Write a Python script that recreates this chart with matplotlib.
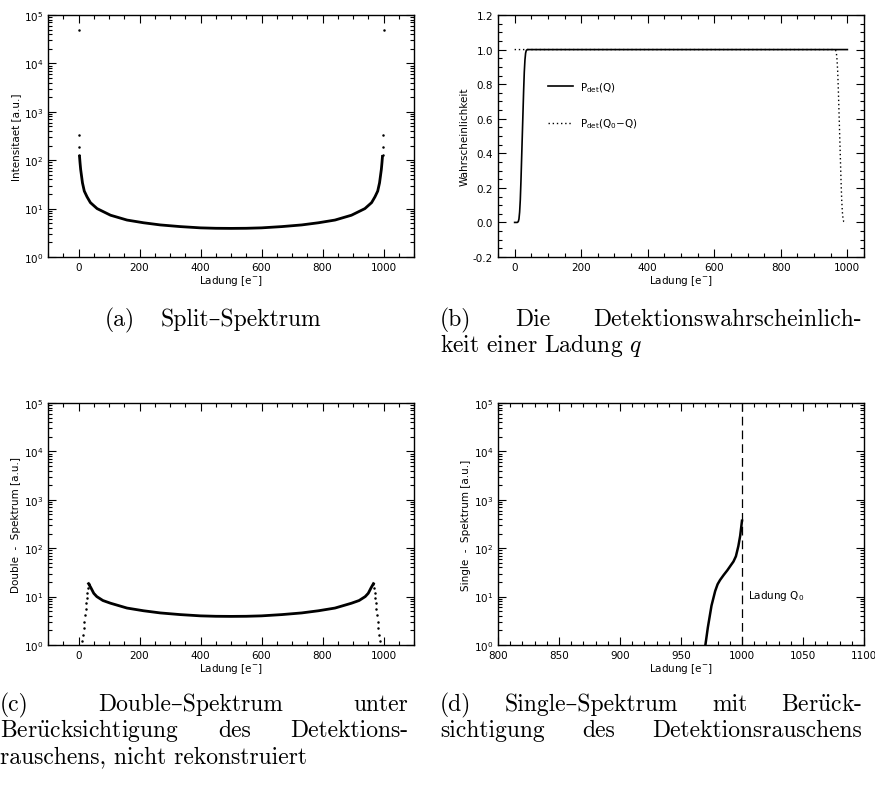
import matplotlib
matplotlib.use("Agg")
import matplotlib.pyplot as plt
from matplotlib.ticker import MultipleLocator, LogLocator, NullFormatter, FormatStrFormatter
import numpy as np

plt.rcParams['font.family'] = 'DejaVu Sans'
plt.rcParams['font.size'] = 7.5
plt.rcParams['axes.linewidth'] = 1.0

W, H = 875, 803

# (a) split spectrum, dots at the very edges, dense curve in between
split_dot_q = [0, 1, 2, 3, 997, 998, 999, 1000]
split_dot_i = [5.0e4, 330, 187, 128, 128, 187, 330, 5.0e4]
split_q = [3, 5, 7, 10, 13, 19, 28, 39, 61, 105, 159, 213, 268, 333, 400, 450, 500,
           550, 600, 667, 732, 787, 841, 895, 939, 961, 972, 981, 987, 990, 993, 995, 997]
split_i = [128, 89, 65, 47, 34, 23, 17.5, 13.3, 10, 7.3, 5.8, 5.1, 4.6, 4.25, 4.0, 3.92, 3.9,
           3.92, 4.0, 4.25, 4.6, 5.1, 5.8, 7.3, 10, 13.3, 17.5, 23, 34, 47, 65, 89, 128]

# (b) detection probability
pdet_q = [0, 3, 8, 11, 13, 15, 17, 19, 21, 23, 25, 27, 29, 31, 33, 35, 38, 42, 1000]
pdet_p = [0, 0, 0, 0.005, 0.02, 0.06, 0.13, 0.24, 0.37, 0.5, 0.63, 0.76, 0.87, 0.94, 0.98,
          0.995, 1.0, 1.0, 1.0]
pdet_rev_q = [0, 958, 962, 965, 967, 969, 971, 973, 975, 977, 979, 981, 983, 985, 987, 989, 992, 997]
pdet_rev_p = [1.0, 1.0, 1.0, 0.995, 0.98, 0.94, 0.87, 0.76, 0.63, 0.5, 0.37, 0.24, 0.13, 0.06,
              0.02, 0.005, 0, 0]

# (c) double spectrum with detection noise
double_edge_l_q = [13, 15, 17, 19, 21, 23, 25, 27, 29, 31, 33]
double_edge_l_i = [1.2, 1.6, 2.2, 3.0, 4.1, 5.5, 7.3, 9.5, 12, 15, 18.5]
double_edge_r_q = [967, 969, 971, 973, 975, 977, 979, 981, 983, 985, 987]
double_edge_r_i = [18.5, 15, 12, 9.5, 7.3, 5.5, 4.1, 3.0, 2.2, 1.6, 1.2]
double_q = [33, 40, 50, 60, 80, 105, 159, 213, 268, 333, 400, 450, 500,
            550, 600, 667, 732, 787, 841, 895, 920, 940, 950, 960, 967]
double_i = [18.5, 15.5, 11.7, 10, 8.3, 7.3, 5.8, 5.1, 4.6, 4.25, 4.0, 3.92, 3.9,
            3.92, 4.0, 4.25, 4.6, 5.1, 5.8, 7.3, 8.3, 10, 11.7, 15.5, 18.5]

# (d) single spectrum near Q0
single_q = [970, 972, 975, 978, 980, 982, 985, 988, 991, 993, 995, 997, 998.5, 1000]
single_i = [1.0, 2.3, 6.5, 13, 18, 22, 28, 35, 45, 53, 68, 110, 180, 370]
q0 = 1000

fig = plt.figure(figsize=(W / 100, H / 100), dpi=100)


def make_axes(left, top, width=366, height=242):
    return fig.add_axes([left / W, 1 - (top + height) / H, width / W, height / H])


def style(ax):
    ax.tick_params(which='both', direction='in', top=True, right=True, width=0.8)
    ax.tick_params(which='major', length=5.5, pad=3.5)
    ax.tick_params(which='minor', length=3)
    ax.set_xlabel('Ladung [e$^{-}$]', labelpad=1)


def log_y(ax):
    ax.set_yscale('log')
    ax.set_ylim(1, 1e5)
    ax.yaxis.set_major_locator(LogLocator(base=10, numticks=10))
    ax.yaxis.set_minor_locator(LogLocator(base=10, subs=np.arange(2, 10), numticks=10))
    ax.yaxis.set_minor_formatter(NullFormatter())


# (a)
ax = make_axes(48, 16)
ax.plot(split_q, split_i, color='black', lw=2.0, solid_capstyle='butt')
ax.plot(split_dot_q, split_dot_i, ls='none', marker='.', ms=1.6, color='black')
log_y(ax)
ax.set_xlim(-100, 1100)
ax.xaxis.set_major_locator(MultipleLocator(200))
ax.xaxis.set_minor_locator(MultipleLocator(50))
ax.set_ylabel('Intensitaet [a.u.]', labelpad=2)
style(ax)

# (b)
ax = make_axes(498, 16)
ax.plot(pdet_rev_q, pdet_rev_p, color='black', lw=1.0, dashes=(1, 2), label='P$_{\\rm det}$(Q$_0$$-$Q)')
ax.plot(pdet_q, pdet_p, color='black', lw=1.2, label='P$_{\\rm det}$(Q)')
ax.set_xlim(-50, 1050)
ax.set_ylim(-0.2, 1.2)
ax.xaxis.set_major_locator(MultipleLocator(200))
ax.xaxis.set_minor_locator(MultipleLocator(50))
ax.yaxis.set_major_locator(MultipleLocator(0.2))
ax.yaxis.set_minor_locator(MultipleLocator(0.05))
ax.yaxis.set_major_formatter(FormatStrFormatter('%.1f'))
ax.set_ylabel('Wahrscheinlichkeit', labelpad=2)
h, l = ax.get_legend_handles_labels()
ax.legend(h[::-1], l[::-1], loc='upper left', bbox_to_anchor=(0.11, 0.77), frameon=False,
          handlelength=2.4, handletextpad=0.7, labelspacing=2.2, fontsize=7.5)
style(ax)

# (c)
ax = make_axes(48, 404)
ax.plot(double_q, double_i, color='black', lw=2.0)
ax.plot(double_edge_l_q, double_edge_l_i, ls='none', marker='.', ms=1.6, color='black')
ax.plot(double_edge_r_q, double_edge_r_i, ls='none', marker='.', ms=1.6, color='black')
log_y(ax)
ax.set_xlim(-100, 1100)
ax.xaxis.set_major_locator(MultipleLocator(200))
ax.xaxis.set_minor_locator(MultipleLocator(50))
ax.set_ylabel('Double  -  Spektrum [a.u.]', labelpad=2)
style(ax)

# (d)
ax = make_axes(498, 404)
ax.plot(single_q, single_i, color='black', lw=1.8)
ax.axvline(q0, color='black', lw=0.9, dashes=(7, 4))
ax.text(q0 + 5, 11, 'Ladung Q$_0$', ha='left', va='center', fontsize=7.5)
log_y(ax)
ax.set_xlim(800, 1100)
ax.xaxis.set_major_locator(MultipleLocator(50))
ax.xaxis.set_minor_locator(MultipleLocator(10))
ax.set_ylabel('Single  -  Spektrum [a.u.]', labelpad=2)
style(ax)

# captions below the panels
cap_font = dict(family=['cmr10', 'DejaVu Serif'], fontsize=17, va='center', math_fontfamily='cm')
renderer = fig.canvas.get_renderer()
ue = r'$\ddot{\mathrm{u}}$'


def caption(text, x, y, ha='left'):
    return fig.text(x / W, 1 - y / H, text, ha=ha, **cap_font)


def justified(words, x0, x1, y):
    texts = [caption(w, x0, y) for w in words]
    widths = [t.get_window_extent(renderer).width for t in texts]
    gap = (x1 - x0 - sum(widths)) / (len(words) - 1)
    x = x0
    for t, w in zip(texts, widths):
        t.set_x(x / W)
        x += w + gap


label_a = caption('(a)', 105, 320)
caption('Split\u2013Spektrum', 105 + label_a.get_window_extent(renderer).width + 26, 320)
justified(['(b)', 'Die', 'Detektionswahrscheinlich-'], 440, 862, 320)
caption('keit einer Ladung $q$', 440, 346)
justified(['(c)', 'Double\u2013Spektrum', 'unter'], 0, 408, 705)
justified(['Ber' + ue + 'cksichtigung', 'des', 'Detektions-'], 0, 408, 731)
caption('rauschens, nicht rekonstruiert', 0, 757)
justified(['(d)', 'Single\u2013Spektrum', 'mit', 'Ber' + ue + 'ck-'], 440, 862, 705)
justified(['sichtigung', 'des', 'Detektionsrauschens'], 440, 862, 731)

fig.savefig('out.png', dpi=100)
